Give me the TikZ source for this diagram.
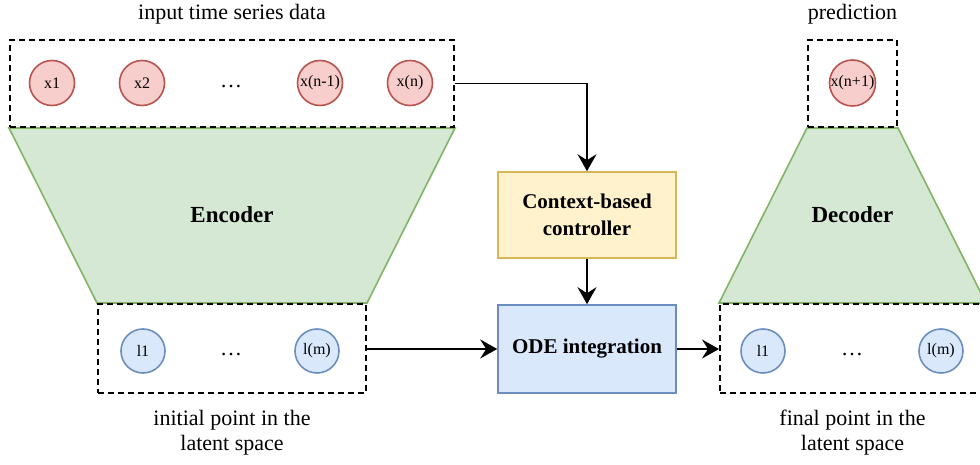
\documentclass[tikz,border=0pt]{standalone}
\usepackage{fontspec}
\setmainfont{Liberation Serif}
\usetikzlibrary{arrows.meta}

\definecolor{redfill}{HTML}{F8CECC}
\definecolor{redline}{HTML}{B85450}
\definecolor{bluefill}{HTML}{DAE8FC}
\definecolor{blueline}{HTML}{6C8EBF}
\definecolor{greenfill}{HTML}{D5E8D4}
\definecolor{greenline}{HTML}{82B366}
\definecolor{yellowfill}{HTML}{FFF2CC}
\definecolor{yellowline}{HTML}{D6B656}

\tikzset{
  group/.style={draw=black, line width=2pt, dash pattern=on 6pt off 4pt,
    rectangle, inner sep=0pt},
  obs/.style={circle, draw=redline, fill=redfill, line width=1.6pt,
    minimum size=45pt, inner sep=0pt, font=\fontsize{16}{16}\selectfont},
  lat/.style={circle, draw=blueline, fill=bluefill, line width=1.6pt,
    minimum size=44pt, inner sep=0pt, font=\fontsize{16}{16}\selectfont},
  netshape/.style={fill=greenfill, draw=greenline, line width=1.6pt},
  procbox/.style={rectangle, line width=1.6pt, minimum width=178pt,
    minimum height=86pt, align=center, inner sep=0pt,
    font=\fontsize{21}{27}\selectfont\bfseries},
  caption/.style={align=center, inner sep=0pt, font=\fontsize{22}{25}\selectfont},
  dotsl/.style={inner sep=0pt, font=\fontsize{22}{22}\selectfont},
  flow/.style={line width=1.8pt, -{Stealth[length=17pt, width=19pt, inset=6pt]}},
}

\begin{document}
\begin{tikzpicture}[x=1pt, y=-1pt]
  \clip (0,0) rectangle (980,465);
  \fill[white] (0,0) rectangle (980,465);

  % group frames
  \node[group, minimum width=444pt, minimum height=87pt] (inbox) at (232,83.5) {};
  \node[group, minimum width=268pt, minimum height=89pt] (latin) at (232,348.5) {};
  \node[group, minimum width=89pt, minimum height=87pt] (predbox) at (852.5,83.5) {};
  \node[group, minimum width=265pt, minimum height=89pt] (latout) at (852.5,348.5) {};

  % encoder and decoder
  \draw[netshape] (inbox.south west) -- (inbox.south east)
    -- (latin.north east) -- (latin.north west) -- cycle;
  \draw[netshape] (predbox.south west) -- (predbox.south east)
    -- (latout.north east) -- (latout.north west) -- cycle;
  \node[font=\fontsize{23}{23}\selectfont\bfseries] (enc) at (232,215) {Encoder};
  \node[font=\fontsize{23}{23}\selectfont\bfseries] (dec) at (852.5,215) {Decoder};

  % redraw frames over the shapes' edges
  \node[group, minimum width=444pt, minimum height=87pt] at (232,83.5) {};
  \node[group, minimum width=268pt, minimum height=89pt] at (232,348.5) {};
  \node[group, minimum width=89pt, minimum height=87pt] at (852.5,83.5) {};
  \node[group, minimum width=265pt, minimum height=89pt] at (852.5,348.5) {};

  % observations
  \node[obs] (x1) at (52,83) {x1};
  \node[obs] (x2) at (142,83) {x2};
  \node[dotsl] (xdots) at (231,87) {\dots};
  \node[obs] (xn1) at (320,83) {x(n-1)};
  \node[obs] (xn) at (410,83) {x(n)};
  \node[obs] (xnext) at (852.5,83) {x(n+1)};

  % latent states
  \node[lat] (l1a) at (143,351) {l1};
  \node[dotsl] (ladots) at (231,355) {\dots};
  \node[lat] (lma) at (317,351) {l(m)};
  \node[lat] (l1b) at (763,351) {l1};
  \node[dotsl] (lbdots) at (852,355) {\dots};
  \node[lat] (lmb) at (941,351) {l(m)};

  % processing blocks
  \node[procbox, draw=yellowline, fill=yellowfill] (ctrl) at (587,215)
    {Context-based\\controller};
  \node[procbox, draw=blueline, fill=bluefill, minimum height=88pt] (ode) at (587,349)
    {ODE integration};

  % connectors
  \draw[flow] (inbox.east) -| (ctrl.north);
  \draw[flow] (ctrl.south) -- (ode.north);
  \draw[flow] (latin.east |- ode.west) -- (ode.west);
  \draw[flow] (ode.east) -- (latout.west |- ode.east);

  % captions
  \node[caption] (tin) at (232,14) {input time series data};
  \node[caption] (tpred) at (852.5,14) {prediction};
  \node[caption] (tinit) at (232,433) {initial point in the\\latent space};
  \node[caption] (tfinal) at (852.5,433) {final point in the\\latent space};
\end{tikzpicture}
\end{document}
